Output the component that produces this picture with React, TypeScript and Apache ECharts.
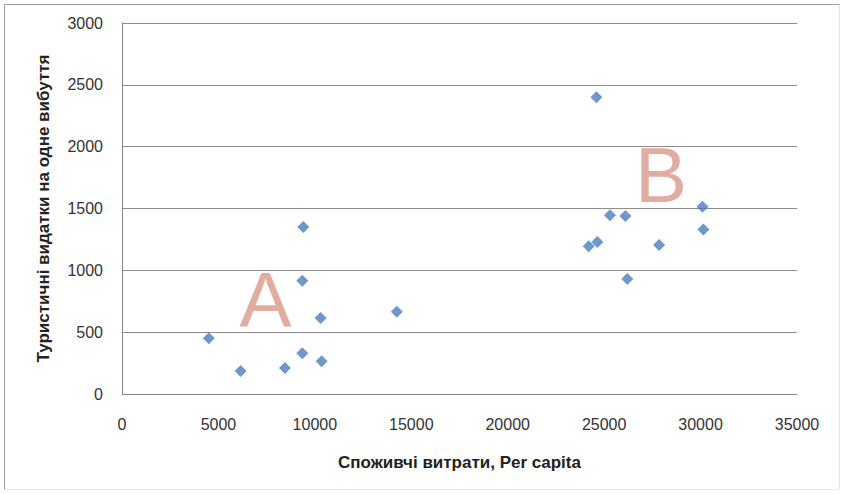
import React, { useEffect, useRef } from "react";
import * as echarts from "echarts";

// Consumer spending per capita vs. tourist spending per departure
const spending: number[] = [
  4500, 6150, 8450, 9350, 9350, 9400, 10300, 10350, 14250,
  24600, 25300, 26100, 24200, 24650, 26200, 27850, 30100, 30150,
];
const tourism: number[] = [
  450, 185, 210, 330, 915, 1350, 615, 265, 665,
  2400, 1445, 1440, 1195, 1230, 930, 1205, 1515, 1330,
];

const xTicks = { min: 0, max: 35000, interval: 5000 };
const yTicks = { min: 0, max: 3000, interval: 500 };

const xTitle = "Споживчі витрати, Per capita";
const yTitle = "Туристичні видатки на одне вибуття";

// Cluster letters and the point of the value space they sit on
const clusterLabels: { text: string; at: [number, number] }[] = [
  { text: "A", at: [7440, 760] },
  { text: "B", at: [27950, 1770] },
];

const FONT = "'Liberation Sans', Arial, sans-serif";

export default function App() {
  const ref = useRef<HTMLDivElement>(null);

  useEffect(() => {
    document.body.style.margin = "0";
    if (!ref.current) return;
    const chart = echarts.init(ref.current, null, { renderer: "svg" });

    const points = spending.map((x, i) => [x, tourism[i]]);
    const plain = (v: number) => String(v);

    chart.setOption({
      animation: false,
      backgroundColor: "#ffffff",
      textStyle: { fontFamily: FONT },
      grid: { left: 122, right: 45, top: 23, bottom: 100, containLabel: false },
      xAxis: {
        type: "value",
        min: xTicks.min,
        max: xTicks.max,
        interval: xTicks.interval,
        name: xTitle,
        nameLocation: "middle",
        nameGap: 60,
        nameTextStyle: { fontSize: 17, fontWeight: "bold", color: "#222", fontFamily: FONT },
        axisLine: { show: true, lineStyle: { color: "#868686", width: 1 } },
        axisTick: { show: false },
        splitLine: { show: false },
        axisLabel: { fontSize: 16, color: "#333", margin: 22, fontFamily: FONT, formatter: plain },
      },
      yAxis: {
        type: "value",
        min: yTicks.min,
        max: yTicks.max,
        interval: yTicks.interval,
        name: yTitle,
        nameLocation: "middle",
        nameGap: 70,
        nameRotate: 90,
        nameTextStyle: { fontSize: 17, fontWeight: "bold", color: "#222", fontFamily: FONT },
        axisLine: { show: true, lineStyle: { color: "#868686", width: 1 } },
        axisTick: { show: false },
        splitLine: { show: true, lineStyle: { color: "#8c8c8c", width: 1 } },
        axisLabel: { fontSize: 16, color: "#333", margin: 19, fontFamily: FONT, formatter: plain },
      },
      series: [
        {
          type: "scatter",
          data: clusterLabels.map((c) => ({ value: c.at, name: c.text })),
          symbolSize: 0,
          silent: true,
          z: 2,
          label: {
            show: true,
            position: "inside",
            formatter: (p: any) => p.name,
            fontSize: 78,
            fontFamily: FONT,
            color: "#d9998a",
          },
        },
        {
          type: "scatter",
          data: points,
          symbol: "diamond",
          symbolSize: 12,
          itemStyle: { color: "#4a7ebb" },
          z: 3,
        },
      ],
      graphic: [
        { type: "line", shape: { x1: 4.5, y1: 4.5, x2: 840, y2: 4.5 }, style: { stroke: "#9a9a9a", lineWidth: 1 } },
        { type: "line", shape: { x1: 4.5, y1: 4.5, x2: 4.5, y2: 489.5 }, style: { stroke: "#9a9a9a", lineWidth: 1 } },
        { type: "line", shape: { x1: 839.5, y1: 4.5, x2: 839.5, y2: 489.5 }, style: { stroke: "#e2e2e2", lineWidth: 1 } },
        { type: "line", shape: { x1: 4.5, y1: 489.5, x2: 839.5, y2: 489.5 }, style: { stroke: "#e8e8e8", lineWidth: 1 } },
      ],
    });

    return () => chart.dispose();
  }, []);

  return <div ref={ref} style={{ width: 842, height: 494 }} />;
}
